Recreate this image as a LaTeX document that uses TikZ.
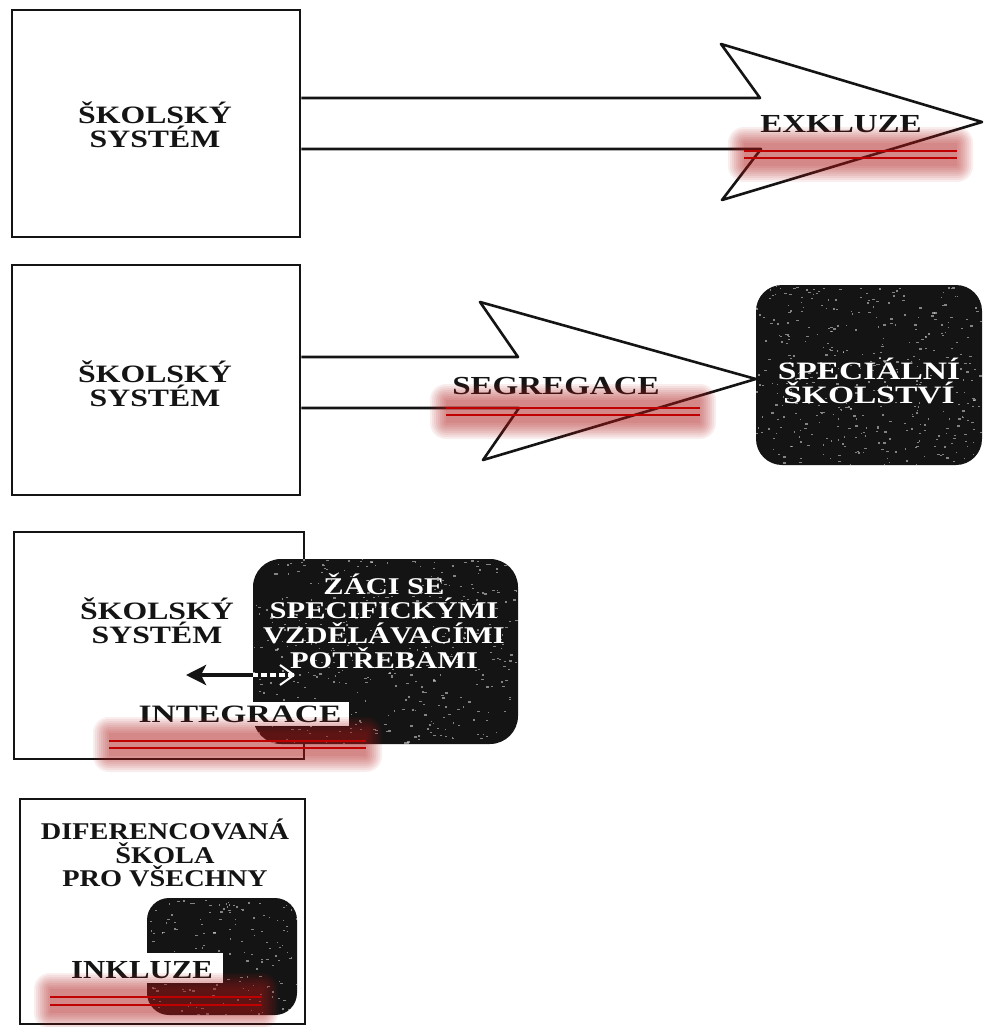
\documentclass[tikz,border=0pt]{standalone}
\usepackage{fontspec}
\setmainfont{Liberation Serif}
\newfontfamily\fA[FakeStretch=1.18]{Liberation Serif}
\newfontfamily\fB[FakeStretch=1.27]{Liberation Serif}
\newfontfamily\fC[FakeStretch=1.34]{Liberation Serif}
\usetikzlibrary{arrows.meta}
\definecolor{ulred}{HTML}{C00000}
\definecolor{glowred}{HTML}{B01818}
\definecolor{ink}{HTML}{141414}
\tikzset{
  x=1pt, y=-1pt,
  frame/.style={draw=ink, line width=2.8pt, fill=white, inner sep=0pt},
  darkbox/.style={fill=ink, inner sep=0pt},
  lbl/.style={text=ink, align=center, inner sep=0pt},
  whitelbl/.style={text=white, align=center, inner sep=0pt},
  bigarrow/.style={draw=ink, line width=2.6pt, line join=round},
  tagbox/.style={fill=white, inner sep=0pt},
  smallarrow/.style={line width=4pt, -{Stealth[length=20pt,width=20pt,inset=5pt]}},
  speck/.style={fill=white!75!gray, opacity=0.55},
}
\newcommand\redmark[4]{%
  \foreach \k in {16,14,...,0}{%
    \fill[glowred, opacity=0.075, rounded corners=\k pt] ({#1-\k},{#3-8-\k}) rectangle ({#2+\k},{#4+8+\k});
  }%
  \draw[ulred, line width=2.6pt] (#1,#3) -- (#2,#3);
  \draw[ulred, line width=2.6pt] (#1,#4) -- (#2,#4);
}
\newcommand\speckles[5]{% x1 x2 y1 y2 count
  \foreach \i in {1,...,#5}{%
    \fill[speck] ({#1+rnd*(#2-#1)},{#3+rnd*(#4-#3)}) rectangle ++({1+2*rnd},{0.8+rnd});
  }%
}
\begin{document}
\begin{tikzpicture}
\pgfmathsetseed{7}
\useasboundingbox[fill=white] (0,0) rectangle (984,1027);

% ---------- panel 1: exclusion
\node[frame, minimum width=288pt, minimum height=227pt] (box1) at (156,123.5) {};
\node[lbl, font=\fB\bfseries\fontsize{25}{24}\selectfont] (t1) at (155,125) {ŠKOLSKÝ\\SYSTÉM};
\draw[bigarrow] (box1.east |- 0,98) -- (760,98) -- (721,44) -- (982,122) -- (722,200) -- (761,149) -- (box1.east |- 0,149);
\node[lbl, font=\fB\bfseries\fontsize{26}{25}\selectfont] (exk) at (841,124) {EXKLUZE};
\redmark{744}{957}{151}{158}

% ---------- panel 2: segregation
\node[frame, minimum width=288pt, minimum height=230pt] (box2) at (156,380) {};
\node[lbl, font=\fB\bfseries\fontsize{25}{24}\selectfont] (t2) at (155,384) {ŠKOLSKÝ\\SYSTÉM};
\node[darkbox, rounded corners=26pt, minimum width=226pt, minimum height=180pt] (spec) at (869,375) {};
\begin{scope}
  \clip[rounded corners=26pt] (spec.south west) rectangle (spec.north east);
  \speckles{756}{982}{285}{465}{420}
\end{scope}
\node[whitelbl, font=\fC\bfseries\fontsize{25}{24.5}\selectfont] (tspec) at (869,381) {SPECIÁLNÍ\\ŠKOLSTVÍ};
\draw[bigarrow] (box2.east |- 0,357) -- (518,357) -- (480,302) -- (spec.west |- 0,379) -- (483,460) -- (519,408) -- (box2.east |- 0,408);
\node[lbl, font=\fB\bfseries\fontsize{26}{26}\selectfont] (seg) at (556,386) {SEGREGACE};
\redmark{446}{700}{408}{415}

% ---------- panel 3: integration
\node[frame, minimum width=290pt, minimum height=227pt] (box3) at (159,645.5) {};
\node[lbl, font=\fB\bfseries\fontsize{25}{24}\selectfont] (t3) at (157,621) {ŠKOLSKÝ\\SYSTÉM};
\node[darkbox, rounded corners=28pt, minimum width=265pt, minimum height=185pt] (zaci) at (385.5,651.5) {};
\begin{scope}
  \clip[rounded corners=28pt] (zaci.south west) rectangle (zaci.north east);
  \speckles{253}{518}{559}{744}{440}
\end{scope}
\node[whitelbl, font=\fB\bfseries\fontsize{24}{24.7}\selectfont] (tzaci) at (384,621) {ŽÁCI SE\\SPECIFICKÝMI\\VZDĚLÁVACÍMI\\POTŘEBAMI};
\coordinate (a3s) at (294,675);
\coordinate (a3e) at (186,675);
\draw[smallarrow, ink] (a3s) -- (a3e);
\begin{scope}
  \clip (zaci.south west) rectangle (zaci.north east);
  \draw[white, line width=4pt, dash pattern=on 6pt off 3pt] (a3s) -- (zaci.west |- a3s);
  \draw[white, line width=2pt] (a3s) -- ++(-14,-10);
  \draw[white, line width=2pt] (a3s) -- ++(-14,10);
\end{scope}
\node[tagbox, minimum width=215pt, minimum height=24pt] (integ) at (241.5,713.5) {};
\node[lbl, font=\fC\bfseries\fontsize{25}{25}\selectfont] (tint) at (240,714) {INTEGRACE};
\redmark{109}{366}{741}{748}

% ---------- panel 4: inclusion
\node[frame, minimum width=285pt, minimum height=225pt] (box4) at (162.5,911.5) {};
\node[lbl, font=\fA\bfseries\fontsize{24}{23.5}\selectfont] (t4) at (165,853) {DIFERENCOVANÁ\\ŠKOLA\\PRO VŠECHNY};
\node[darkbox, rounded corners=22pt, minimum width=150pt, minimum height=117pt] (inner4) at (222,956.5) {};
\begin{scope}
  \clip[rounded corners=22pt] (inner4.south west) rectangle (inner4.north east);
  \speckles{147}{297}{898}{1015}{160}
\end{scope}
\node[tagbox, minimum width=163pt, minimum height=30pt] (inkl) at (141.5,968) {};
\node[lbl, font=\fA\bfseries\fontsize{26}{26}\selectfont] (tinkl) at (142,970) {INKLUZE};
\redmark{50}{262}{997}{1005}
\end{tikzpicture}
\end{document}
